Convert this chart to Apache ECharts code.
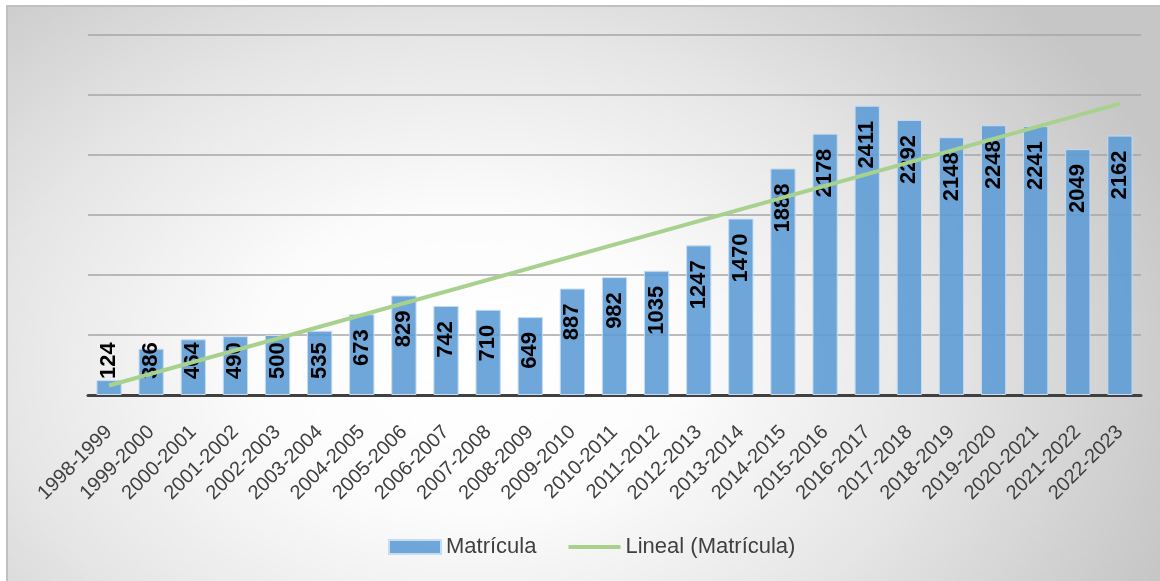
<!DOCTYPE html>
<html>
<head>
<meta charset="utf-8">
<script src="https://cdn.jsdelivr.net/npm/echarts@6/dist/echarts.min.js"></script>
<style>
html,body{margin:0;padding:0;background:#fff;}
#frame{position:absolute;left:6px;top:5px;width:1154px;height:576px;
background:radial-gradient(ellipse 65% 92% at 40% 62%, #ffffff 0%, #fcfcfc 28%, #e6e6e6 62%, #c6c6c6 100%);
border-top:2px solid #c0c0c0;border-left:2px solid #c0c0c0;box-sizing:border-box;}
#chart{position:absolute;left:0;top:0;width:1160px;height:581px;}
</style>
</head>
<body>
<div id="frame"></div>
<div id="chart"></div>
<script>
const categories = ['1998-1999','1999-2000','2000-2001','2001-2002','2002-2003','2003-2004','2004-2005','2005-2006','2006-2007','2007-2008','2008-2009','2009-2010','2010-2011','2011-2012','2012-2013','2013-2014','2014-2015','2015-2016','2016-2017','2017-2018','2018-2019','2019-2020','2020-2021','2021-2022','2022-2023'];
const matricula = [124,386,464,490,500,535,673,829,742,710,649,887,982,1035,1247,1470,1888,2178,2411,2292,2148,2248,2241,2049,2162];
// Trend line endpoints (first and last category)
const trendEnds = [79, 2428];

const trendData = [[categories[0], trendEnds[0]], [categories[categories.length-1], trendEnds[1]]];

// short bars: label sits near the base instead of under the top
const barData = matricula.map(v => v < 560
  ? {value:v, label:{position:'insideBottom', align:'left', distance:16}}
  : v);

const chart = echarts.init(document.getElementById('chart'), null, {renderer:'canvas'});
chart.setOption({
  animation:false,
  textStyle:{fontFamily:'Liberation Sans, Arial, sans-serif'},
  grid:{left:88, right:19, top:35, bottom:186},
  xAxis:{
    type:'category', data:categories, boundaryGap:true,
    axisLine:{lineStyle:{color:'#404040', width:3}},
    axisTick:{show:false},
    axisLabel:{rotate:45, color:'#404040', fontSize:20, margin:34, interval:0}
  },
  yAxis:{
    type:'value', min:0, max:3000, interval:500,
    axisLabel:{show:false}, axisLine:{show:false}, axisTick:{show:false},
    splitLine:{lineStyle:{color:'#a6a6a6', width:1.5}}
  },
  legend:{
    bottom:18, left:383, itemGap:32, itemWidth:52, itemHeight:14,
    textStyle:{color:'#404040', fontSize:22},
    data:[
      {name:'Matrícula', icon:'rect'},
      {name:'Lineal (Matrícula)', icon:'path://M0,0 L52,0 L52,4 L0,4 Z', itemStyle:{color:'#a9d18e'}}
    ]
  },
  series:[
    {
      name:'Matrícula', type:'bar', data:barData, barWidth:'60%',
      itemStyle:{color:'rgba(91,155,213,0.88)', borderColor:'#c5dcf1', borderWidth:1},
      label:{show:true, position:'insideTop', distance:15, rotate:90, align:'right', verticalAlign:'middle',
        color:'#000', fontWeight:'bold', fontSize:22},
      z:2
    },
    {
      name:'Lineal (Matrícula)', type:'line', data:trendData, symbol:'none',
      lineStyle:{color:'#a9d18e', width:4}, itemStyle:{color:'#a9d18e'}, z:3
    }
  ]
});
</script>
</body>
</html>
